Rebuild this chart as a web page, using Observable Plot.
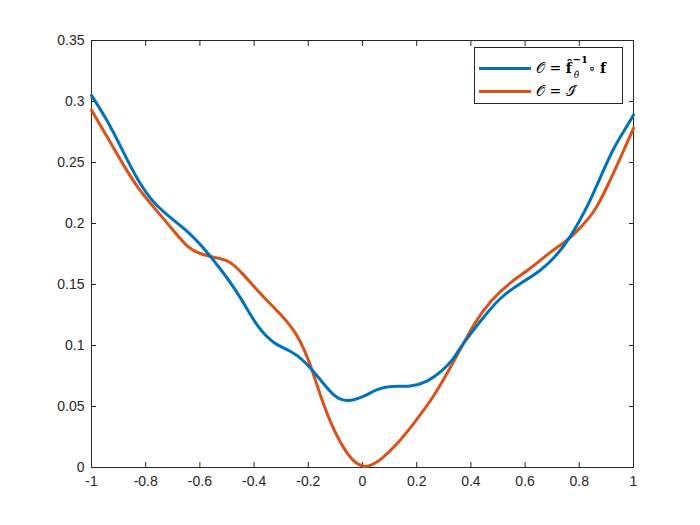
<!DOCTYPE html>
<html>
<head>
<meta charset="utf-8">
<script src="https://cdn.jsdelivr.net/npm/d3@7"></script>
<script src="https://cdn.jsdelivr.net/npm/@observablehq/plot@0.6"></script>
<style>
  html, body { margin: 0; padding: 0; background: #fff; }
  #wrap { position: relative; width: 700px; height: 525px; }
  #legend {
    position: absolute; left: 474px; top: 47px; width: 149px; height: 57px;
    border: 1px solid #262626; background: #fff; box-sizing: border-box;
    font-family: "DejaVu Serif", "Liberation Serif", serif; font-size: 14px; color: #000;
  }
  .row { position: absolute; left: 0; height: 20px; display: flex; align-items: center; white-space: nowrap; line-height: 16px; }
  .sw { width: 52px; height: 3px; margin-left: 4px; margin-right: 5px; flex: none; }
  .ss { display: inline-block; position: relative; width: 17px; height: 16px; vertical-align: top; }
  .sup { position: absolute; left: 1px; top: -5px; font-size: 10px; line-height: 10px; }
  .sub { position: absolute; left: 2px; top: 10px; font-size: 9px; line-height: 10px; }
</style>
</head>
<body>
<div id="wrap"></div>
<script>
// data
const blueX = [-1, -0.937, -0.888, -0.827, -0.765, -0.704, -0.642, -0.598, -0.524, -0.450, -0.389, -0.327, -0.266, -0.217, -0.155, -0.106, -0.057, 0.005, 0.054, 0.103, 0.177, 0.239, 0.294, 0.337, 0.362, 0.435, 0.509, 0.583, 0.657, 0.718, 0.768, 0.829, 0.878, 0.928, 0.977, 1];
const blueY = [0.305, 0.283, 0.261, 0.234, 0.215, 0.204, 0.193, 0.183, 0.163, 0.140, 0.115, 0.101, 0.096, 0.088, 0.072, 0.058, 0.0535, 0.058, 0.0645, 0.067, 0.066, 0.070, 0.079, 0.089, 0.099, 0.120, 0.140, 0.151, 0.161, 0.174, 0.189, 0.213, 0.238, 0.263, 0.280, 0.289];
const orangeX = [-1, -0.937, -0.888, -0.827, -0.765, -0.704, -0.642, -0.598, -0.544, -0.494, -0.450, -0.376, -0.303, -0.241, -0.192, -0.155, -0.106, -0.057, -0.028, 0.005, 0.035, 0.066, 0.128, 0.189, 0.263, 0.319, 0.362, 0.411, 0.472, 0.546, 0.620, 0.694, 0.768, 0.804, 0.853, 0.903, 0.952, 1];
const orangeY = [0.293, 0.269, 0.250, 0.228, 0.212, 0.196, 0.179, 0.175, 0.172, 0.170, 0.161, 0.142, 0.126, 0.110, 0.085, 0.058, 0.030, 0.011, 0.004, 0.0, 0.002, 0.006, 0.019, 0.036, 0.058, 0.080, 0.097, 0.118, 0.137, 0.152, 0.163, 0.177, 0.188, 0.197, 0.208, 0.230, 0.254, 0.278];
const xTicks = [-1, -0.8, -0.6, -0.4, -0.2, 0, 0.2, 0.4, 0.6, 0.8, 1];
const yTicks = [0, 0.05, 0.1, 0.15, 0.2, 0.25, 0.3, 0.35];

const blue = blueX.map((x, i) => ({x, y: blueY[i]}));
const orange = orangeX.map((x, i) => ({x, y: orangeY[i]}));
const fmt = d => String(+d.toFixed(2));
const none = () => "";
const axisColor = "#262626";

const chart = Plot.plot({
  width: 700, height: 525,
  marginLeft: 91, marginRight: 67, marginTop: 40, marginBottom: 58,
  style: {fontFamily: "'Liberation Sans', Arial, sans-serif", fontSize: "14px", color: axisColor, background: "#fff"},
  x: {domain: [-1, 1]},
  y: {domain: [0, 0.35]},
  marks: [
    Plot.frame({stroke: axisColor}),
    Plot.axisX({ticks: xTicks, tickFormat: fmt, tickSize: -5, tickPadding: 14, label: null, stroke: axisColor}),
    Plot.axisX({anchor: "top", ticks: xTicks, tickFormat: none, tickSize: -5, label: null, stroke: axisColor}),
    Plot.axisY({ticks: yTicks, tickFormat: fmt, tickSize: -5, tickPadding: 12, label: null, stroke: axisColor}),
    Plot.axisY({anchor: "right", ticks: yTicks, tickFormat: none, tickSize: -5, label: null, stroke: axisColor}),
    Plot.line(orange, {x: "x", y: "y", stroke: "#D95319", strokeWidth: 3, curve: "basis"}),
    Plot.line(blue, {x: "x", y: "y", stroke: "#0072BD", strokeWidth: 3, curve: "basis"})
  ]
});
const wrap = document.getElementById("wrap");
wrap.appendChild(chart);

const legend = document.createElement("div");
legend.id = "legend";
legend.innerHTML = `
  <div class="row" style="top:10px"><div class="sw" style="background:#0072BD"></div>
    <span>𝒪 = <b>f\u0302</b></span><span class="ss"><b class="sup">−1</b><span class="sub"><i>θ\u0302</i></span></span><span>∘ <b>f</b></span></div>
  <div class="row" style="top:33px"><div class="sw" style="background:#D95319"></div>
    <span>𝒪 = ℐ\u0302</span></div>`;
wrap.appendChild(legend);
</script>
</body>
</html>
